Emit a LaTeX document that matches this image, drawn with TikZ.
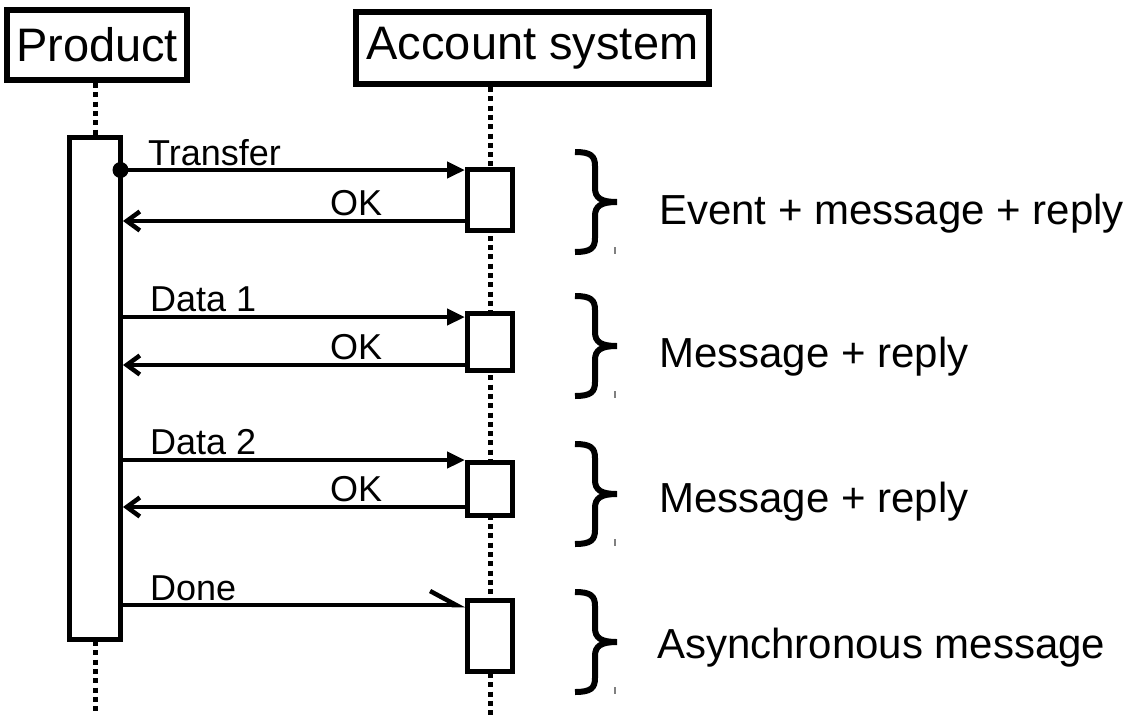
\documentclass[tikz,border=0pt]{standalone}
\usepackage{fontspec}
\setmainfont{Liberation Sans}
\usetikzlibrary{arrows.meta}

\begin{document}
\begin{tikzpicture}[x=1pt,y=-1pt,
  header/.style={draw, line width=6pt, fill=white, inner sep=0pt,
    font=\fontsize{47}{52}\selectfont},
  bar/.style={draw, line width=5pt, fill=white, inner sep=0pt},
  lifeline/.style={line width=5pt, dash pattern=on 5pt off 4.3pt},
  msg/.style={line width=4.5pt, -{Triangle[length=18pt,width=16pt]}},
  reply/.style={line width=4.5pt, -{Straight Barb[length=13pt,width=19pt]}},
  async/.style={line width=4.5pt, -{Straight Barb[left,length=26pt,width=28pt]}},
  msglabel/.style={inner sep=0pt, anchor=base west, font=\fontsize{36}{40}\selectfont},
  note/.style={inner sep=0pt, anchor=base west, font=\fontsize{42}{46}\selectfont},
  curly/.pic={
    \draw[line width=6pt] (0,-50) .. controls (16,-50) and (20,-46) .. (20,-36)
      -- (20,-14) .. controls (20,-4) and (26,0) .. (42,0)
      .. controls (26,0) and (20,4) .. (20,14)
      -- (20,36) .. controls (20,46) and (16,50) .. (0,50);
    \draw[gray, line width=1.5pt] (40,45) -- (40,52);
  }]
\useasboundingbox (0,0) rectangle (1132,715);

% lifeline ends
\coordinate (pend) at (95,715);
\coordinate (aend) at (490,715);
\coordinate (atop) at (490,87);

% participants
\node[header, minimum width=180, minimum height=70] (prod) at (97,45) {Product};
\node[header, minimum width=353, minimum height=72] (acct) at (532.5,48) {Account system};

% lifelines
\draw[lifeline] (prod.south -| pend) -- (pend);
\draw[lifeline] (atop) -- (aend);

% activation bars
\node[bar, minimum width=51, minimum height=502] (pbar) at (95,388.5) {};
\node[bar, minimum width=45, minimum height=61] (a1) at (490,200) {};
\node[bar, minimum width=45, minimum height=57] (a2) at (490,342) {};
\node[bar, minimum width=45, minimum height=53] (a3) at (490,489) {};
\node[bar, minimum width=45, minimum height=71] (a4) at (490,636) {};

% message heights
\coordinate (y1) at (0,170);
\coordinate (y2) at (0,221);
\coordinate (y3) at (0,317);
\coordinate (y4) at (0,365);
\coordinate (y5) at (0,460);
\coordinate (y6) at (0,507);
\coordinate (y7) at (0,605);

% messages
\draw[msg] (pbar.east |- y1) -- (a1.west |- y1);
\fill ([xshift=-2.5pt]pbar.east |- y1) circle[radius=8pt];
\draw[reply] (a1.west |- y2) -- (pbar.east |- y2);
\draw[msg] (pbar.east |- y3) -- (a2.west |- y3);
\draw[reply] (a2.west |- y4) -- (pbar.east |- y4);
\draw[msg] (pbar.east |- y5) -- (a3.west |- y5);
\draw[reply] (a3.west |- y6) -- (pbar.east |- y6);
\draw[async] (pbar.east |- y7) -- (a4.west |- y7);

% message labels
\node[msglabel] (l1) at (148,165) {Transfer};
\node[msglabel] (l2) at (330,215) {OK};
\node[msglabel] (l3) at (150,311) {Data 1};
\node[msglabel] (l4) at (330,359) {OK};
\node[msglabel] (l5) at (150,454) {Data 2};
\node[msglabel] (l6) at (330,501) {OK};
\node[msglabel] (l7) at (150,600) {Done};

% groupings
\pic at (575,202) {curly};
\pic at (575,346) {curly};
\pic at (575,494) {curly};
\pic at (575,642) {curly};

\node[note] (n1) at (659,224) {Event + message + reply};
\node[note] (n2) at (659,367) {Message + reply};
\node[note] (n3) at (659,512) {Message + reply};
\node[note] (n4) at (657,658) {Asynchronous message};
\end{tikzpicture}
\end{document}
